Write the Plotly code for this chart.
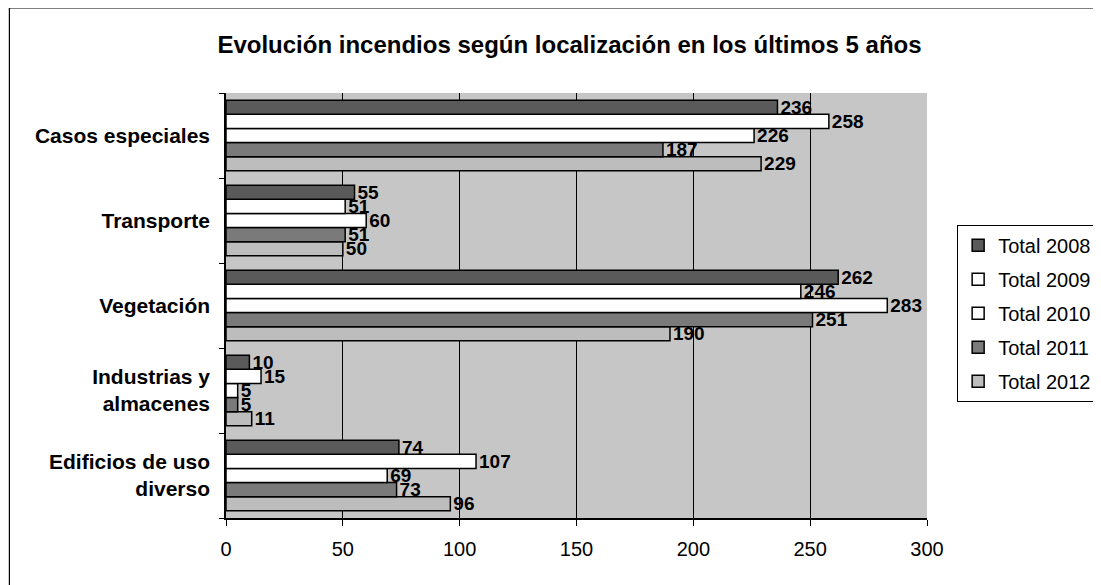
import plotly.graph_objects as go

categorias = ["Edificios de uso<br>diverso", "Industrias y<br>almacenes", "Vegetación", "Transporte", "Casos especiales"]
anios = ["Total 2008", "Total 2009", "Total 2010", "Total 2011", "Total 2012"]
total_2008 = [74, 10, 262, 55, 236]
total_2009 = [107, 15, 246, 51, 258]
total_2010 = [69, 5, 283, 60, 226]
total_2011 = [73, 5, 251, 51, 187]
total_2012 = [96, 11, 190, 50, 229]

series = [total_2008, total_2009, total_2010, total_2011, total_2012]
colores = ["#5a5a5a", "#ffffff", "#ffffff", "#7a7a7a", "#bdbdbd"]

fig = go.Figure()
# plotly puts the first trace at the bottom of each group, so add 2012 first
for i, (nombre, valores, color) in reversed(list(enumerate(zip(anios, series, colores)))):
    fig.add_trace(go.Bar(
        y=categorias, x=valores, name=nombre, orientation="h",
        legendgroup=nombre, legendrank=i + 1,
        marker=dict(color=color, line=dict(color="black", width=1.5)),
        text=valores, textposition="outside", cliponaxis=False, constraintext="none",
        textfont=dict(family="Arial, Liberation Sans", size=19, color="black", weight="bold"),
    ))

# marco exterior del gráfico
fig.add_shape(type="rect", xref="paper", yref="paper",
              x0=-0.309, x1=1.3, y0=-0.3, y1=1.2,
              line=dict(color="black", width=1.2), fillcolor="rgba(0,0,0,0)", layer="below")

fig.update_layout(
    title=dict(text="<b>Evolución incendios según localización en los últimos 5 años</b>",
               x=0.51, xanchor="center", y=0.937, yanchor="middle",
               font=dict(family="Arial, Liberation Sans", size=24, color="black")),
    width=1101, height=585,
    margin=dict(l=218, r=182, t=85, b=75, autoexpand=False),
    paper_bgcolor="white", plot_bgcolor="#c6c6c6",
    barmode="group", bargap=0.17, bargroupgap=0,
    font=dict(family="Arial, Liberation Sans", color="black"),
    showlegend=True,
    legend=dict(traceorder="grouped", x=1.043, y=0.69, xanchor="left", yanchor="top",
                bordercolor="black", borderwidth=1, bgcolor="white",
                font=dict(size=20), itemwidth=30, tracegroupgap=5),
)
fig.update_xaxes(range=[0, 300], dtick=50, showgrid=True, gridcolor="black", gridwidth=1,
                 showline=True, linecolor="black", linewidth=1.5, ticks="outside",
                 ticklen=6, tickcolor="black", tickfont=dict(size=20), zeroline=False,
                 automargin=False, ticklabelstandoff=6)
fig.update_yaxes(showline=True, linecolor="black", linewidth=1.5, ticks="outside",
                 tickson="boundaries", ticklen=5, tickcolor="black", automargin=False,
                 tickfont=dict(size=21, weight="bold"), ticklabelstandoff=10)

fig.write_html("out.html")
